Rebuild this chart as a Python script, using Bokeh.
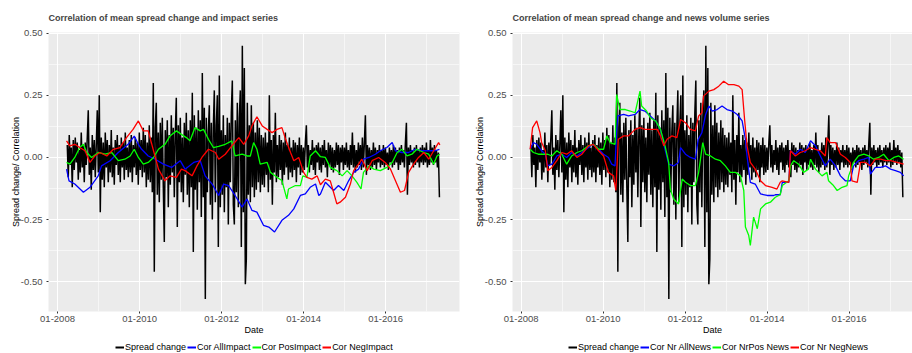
import numpy as np
import pandas as pd
from bokeh.plotting import figure
from bokeh.layouts import row, column
from bokeh.models import Range1d, FixedTicker, DatetimeTickFormatter, PrintfTickFormatter, Legend, LegendItem
from bokeh.embed import file_html
from bokeh.resources import INLINE

# ---------------- data ----------------
SPREAD_START = 2008.237
SPREAD_END = 2017.31
spread_change = [
    0.05, -0.08, 0.09, -0.03, 0.04, -0.12, 0.07, -0.05, 0.08, -0.02,
    0.06, -0.09, 0.03, -0.06, 0.10, -0.04, 0.05, -0.10, 0.06, -0.03,
    0.08, 0.19, -0.07, 0.04, -0.13, 0.09, -0.05, 0.07, -0.08, 0.05,
    0.19, -0.06, 0.25, -0.22, 0.08, -0.09, 0.06, -0.12, 0.10, -0.04,
    0.07, -0.10, 0.05, -0.06, 0.11, -0.08, 0.04, -0.11, 0.07, -0.03,
    0.09, -0.07, 0.05, -0.10, 0.08, -0.04, 0.06, -0.09, 0.10, -0.05,
    0.04, -0.08, 0.07, -0.06, 0.09, -0.10, 0.05, -0.04, 0.08, -0.07,
    0.06, -0.11, 0.10, -0.05, 0.07, -0.08, 0.12, -0.06, 0.09, -0.12,
    0.06, -0.09, 0.13, -0.10, 0.08, -0.14, 0.30, -0.46, 0.12, 0.22,
    -0.15, 0.10, -0.18, 0.14, -0.09, 0.16, -0.12, -0.34, 0.11, -0.08,
    0.15, -0.20, 0.09, -0.11, 0.17, -0.06, 0.12, -0.16, 0.10, 0.24,
    -0.28, 0.13, -0.10, 0.16, -0.14, 0.08, -0.18, 0.14, -0.07, 0.18,
    -0.15, 0.11, -0.20, 0.15, -0.12, 0.26, -0.38, 0.17, -0.13, 0.12,
    -0.21, 0.19, -0.10, 0.15, -0.24, 0.34, -0.16, 0.20, -0.57, 0.16,
    -0.14, 0.10, 0.21, -0.19, 0.14, -0.25, 0.12, 0.27, -0.18, 0.13,
    0.25, -0.36, 0.33, -0.20, 0.11, -0.15, 0.17, -0.22, 0.09, -0.12,
    0.16, -0.27, 0.14, -0.10, 0.18, 0.31, -0.19, -0.27, 0.15, -0.14,
    0.22, -0.20, 0.16, 0.27, -0.36, 0.45, -0.22, 0.36, -0.51, -0.41,
    0.22, -0.15, 0.13, -0.18, 0.21, -0.12, 0.14, -0.16, 0.10, -0.13,
    0.15, -0.10, 0.12, -0.14, 0.09, -0.11, 0.08, -0.12, 0.10, -0.07,
    0.06, -0.14, 0.25, -0.09, 0.07, -0.19, 0.09, -0.06, 0.18, -0.10,
    0.05, -0.08, 0.09, -0.05, 0.07, -0.11, 0.06, -0.07, 0.10, -0.04,
    0.05, -0.09, 0.08, -0.06, 0.04, -0.08, 0.07, -0.05, 0.06, -0.10,
    0.05, -0.04, 0.08, -0.07, 0.05, -0.06, 0.04, -0.05, 0.06, 0.13,
    -0.04, 0.05, -0.06, 0.03, -0.03, 0.07, -0.05, 0.04, -0.07, 0.05,
    -0.02, 0.06, -0.05, 0.04, -0.06, 0.05, -0.03, 0.07, -0.04, 0.03,
    -0.08, 0.06, -0.03, 0.05, -0.05, 0.04, -0.06, 0.03, -0.04, 0.06,
    -0.03, 0.05, -0.07, 0.04, -0.02, 0.05, -0.05, 0.04, -0.03, 0.06,
    -0.04, 0.03, -0.05, 0.05, -0.03, 0.10, -0.04, 0.05, -0.06, 0.03,
    -0.04, 0.06, -0.03, 0.05, -0.05, 0.08, -0.04, 0.06, 0.17, -0.07,
    0.05, -0.03, 0.04, -0.05, 0.03, -0.04, 0.06, -0.03, 0.04, -0.05,
    0.03, -0.02, 0.05, -0.04, 0.03, -0.03, 0.05, -0.04, 0.04, -0.03,
    0.02, -0.05, 0.04, -0.02, 0.03, -0.04, 0.05, -0.03, 0.04, -0.02,
    0.03, -0.05, 0.04, -0.03, 0.05, -0.02, 0.03, -0.04, 0.06, 0.14,
    -0.15, 0.04, -0.03, 0.05, -0.02, 0.03, -0.04, 0.04, -0.03, 0.05,
    -0.02, 0.03, -0.04, 0.04, -0.02, 0.05, -0.03, 0.04, -0.02, 0.06,
    -0.04, 0.03, -0.03, 0.07, -0.02, 0.04, -0.03, 0.05, -0.02, 0.03,
    -0.04, 0.02, -0.16,
]

# Left panel: impact correlations
cor_allimpact_t = [2008.22, 2008.28, 2008.42, 2008.63, 2008.79, 2008.99, 2009.07, 2009.28, 2009.48, 2009.72,
                   2009.87, 2009.97, 2010.05, 2010.21, 2010.38, 2010.58, 2010.78, 2010.99, 2011.11, 2011.32,
                   2011.48, 2011.60, 2011.77, 2011.93, 2012.05, 2012.17, 2012.33, 2012.50, 2012.62, 2012.74,
                   2012.86, 2013.02, 2013.15, 2013.29, 2013.47, 2013.63, 2013.76, 2013.92, 2014.04, 2014.16,
                   2014.29, 2014.37, 2014.41, 2014.53, 2014.61, 2014.73, 2014.85, 2014.98, 2015.10, 2015.22,
                   2015.34, 2015.46, 2015.59, 2015.75, 2015.87, 2016.03, 2016.16, 2016.24, 2016.40, 2016.56,
                   2016.72, 2016.89, 2017.05, 2017.21, 2017.31]
cor_allimpact = [-0.047, -0.094, -0.107, -0.14, -0.12, -0.074, -0.034, -0.013, 0.02, 0.053,
                 0.086, 0.053, 0.033, 0.006, -0.007, -0.027, -0.04, -0.013, -0.047, -0.02,
                 -0.013, -0.074, -0.107, -0.153, -0.107, -0.113, -0.153, -0.2, -0.167, -0.213,
                 -0.22, -0.273, -0.28, -0.30, -0.253, -0.233, -0.207, -0.153, -0.147, -0.12,
                 -0.107, -0.153, -0.147, -0.1, -0.113, -0.133, -0.113, -0.133, -0.093, -0.06,
                 -0.047, -0.007, 0.0, 0.013, 0.027, 0.04, 0.06, 0.027, 0.02, 0.02,
                 0.033, 0.027, 0.027, 0.027, 0.033]

cor_posimpact_t = [2008.22, 2008.30, 2008.42, 2008.54, 2008.63, 2008.71, 2008.83, 2008.99, 2009.16, 2009.32,
                   2009.48, 2009.64, 2009.77, 2009.87, 2009.97, 2010.09, 2010.21, 2010.34, 2010.46, 2010.62,
                   2010.74, 2010.90, 2011.02, 2011.14, 2011.23, 2011.35, 2011.48, 2011.56, 2011.68, 2011.80,
                   2011.93, 2012.09, 2012.25, 2012.33, 2012.50, 2012.62, 2012.70, 2012.78, 2012.86, 2012.94,
                   2013.11, 2013.19, 2013.35, 2013.47, 2013.59, 2013.63, 2013.80, 2013.92, 2013.98, 2014.08,
                   2014.16, 2014.29, 2014.41, 2014.53, 2014.65, 2014.81, 2014.94, 2015.06, 2015.18, 2015.30,
                   2015.40, 2015.46, 2015.59, 2015.71, 2015.87, 2016.03, 2016.16, 2016.28, 2016.40, 2016.52,
                   2016.64, 2016.76, 2016.93, 2017.05, 2017.17, 2017.25, 2017.32]
cor_posimpact = [-0.02, -0.027, 0.0, 0.04, 0.053, 0.02, 0.0, 0.02, 0.013, 0.02,
                 -0.013, -0.007, 0.006, 0.033, 0.0, -0.027, -0.02, 0.0, 0.033, 0.053,
                 0.086, 0.107, 0.093, 0.08, 0.067, 0.12, 0.107, 0.113, 0.073, 0.04,
                 0.045, 0.053, 0.067, 0.006, 0.013, 0.006, 0.006, 0.06, 0.033, -0.027,
                 -0.02, -0.06, -0.08, -0.093, -0.167, -0.127, -0.113, -0.113, -0.074, -0.08,
                 0.006, 0.027, 0.003, 0.0, -0.04, -0.053, -0.074, -0.053, -0.074, -0.1,
                 -0.127, -0.06, -0.034, -0.047, -0.053, -0.04, -0.02, 0.02, 0.033, 0.006,
                 0.013, 0.033, 0.02, 0.013, -0.027, 0.006, 0.013]

cor_negimpact_t = [2008.22, 2008.30, 2008.42, 2008.54, 2008.67, 2008.79, 2008.91, 2009.03, 2009.20, 2009.36,
                   2009.52, 2009.68, 2009.84, 2009.97, 2010.09, 2010.21, 2010.34, 2010.46, 2010.62, 2010.74,
                   2010.90, 2011.02, 2011.11, 2011.28, 2011.40, 2011.52, 2011.68, 2011.85, 2011.93, 2012.09,
                   2012.25, 2012.42, 2012.54, 2012.66, 2012.74, 2012.86, 2012.99, 2013.11, 2013.23, 2013.35,
                   2013.47, 2013.56, 2013.68, 2013.76, 2013.88, 2014.00, 2014.08, 2014.20, 2014.33, 2014.41,
                   2014.53, 2014.65, 2014.73, 2014.81, 2014.89, 2015.02, 2015.14, 2015.22, 2015.34, 2015.42,
                   2015.55, 2015.67, 2015.83, 2015.99, 2016.12, 2016.24, 2016.36, 2016.46, 2016.56, 2016.68,
                   2016.80, 2016.93, 2017.05, 2017.17, 2017.29, 2017.32]
cor_negimpact = [0.067, 0.047, 0.053, 0.04, 0.027, -0.02, 0.006, 0.02, 0.006, 0.033,
                 0.04, 0.08, 0.113, 0.147, 0.107, 0.107, 0.027, -0.047, -0.094, -0.074,
                 -0.08, -0.047, -0.053, -0.074, -0.034, 0.0, 0.033, 0.02, -0.007, 0.013,
                 0.047, 0.08, 0.053, 0.087, 0.127, 0.164, 0.127, 0.113, 0.1, 0.113,
                 0.12, 0.073, 0.02, -0.013, 0.0, -0.06, -0.08, -0.087, -0.074, -0.11,
                 -0.087, -0.094, -0.14, -0.187, -0.18, -0.16, -0.107, -0.053, -0.027, -0.007,
                 -0.053, -0.013, 0.0, -0.02, -0.047, -0.094, -0.14, -0.133, -0.06, -0.027,
                 0.0, 0.02, -0.007, 0.027, 0.06, 0.05]

# Right panel: news volume correlations
cor_nr_allnews_t = [2008.22, 2008.30, 2008.38, 2008.50, 2008.59, 2008.65, 2008.75, 2008.87, 2008.99, 2009.11,
                    2009.23, 2009.36, 2009.48, 2009.64, 2009.76, 2009.89, 2010.01, 2010.13, 2010.21, 2010.29,
                    2010.33, 2010.36, 2010.50, 2010.62, 2010.78, 2010.90, 2011.02, 2011.15, 2011.28, 2011.40,
                    2011.48, 2011.60, 2011.72, 2011.84, 2011.89, 2012.01, 2012.13, 2012.25, 2012.32, 2012.41,
                    2012.50, 2012.58, 2012.66, 2012.78, 2012.90, 2013.02, 2013.15, 2013.27, 2013.39, 2013.47,
                    2013.51, 2013.59, 2013.71, 2013.84, 2014.00, 2014.16, 2014.20, 2014.32, 2014.37, 2014.53,
                    2014.57, 2014.69, 2014.81, 2014.93, 2015.06, 2015.18, 2015.30, 2015.42, 2015.54, 2015.67,
                    2015.79, 2015.91, 2016.03, 2016.11, 2016.23, 2016.36, 2016.48, 2016.52, 2016.64, 2016.77,
                    2016.89, 2017.01, 2017.13, 2017.25, 2017.33]
cor_nr_allnews = [0.033, 0.06, 0.053, 0.027, 0.013, -0.034, -0.027, 0.006, 0.013, 0.0,
                  0.02, 0.006, 0.02, 0.04, 0.053, 0.033, 0.013, 0.0, -0.027, -0.034,
                  0.113, 0.167, 0.173, 0.167, 0.173, 0.193, 0.187, 0.167, 0.147, 0.113,
                  0.053, -0.027, -0.034, -0.02, 0.04, 0.013, 0.0, -0.007, 0.073, 0.1,
                  0.173, 0.207, 0.187, 0.193, 0.207, 0.193, 0.187, 0.173, 0.147, 0.073,
                  0.006, -0.1, -0.107, -0.147, -0.153, -0.153, -0.15, -0.15, -0.10, -0.10,
                  0.027, 0.013, 0.033, 0.02, 0.067, 0.047, 0.006, -0.034, -0.007, -0.034,
                  -0.074, -0.094, -0.094, -0.034, -0.013, -0.007, 0.0, -0.067, -0.04, -0.04,
                  -0.034, -0.047, -0.053, -0.06, -0.074]

cor_nrpos_news_t = [2008.22, 2008.30, 2008.42, 2008.54, 2008.65, 2008.75, 2008.87, 2008.99, 2009.11, 2009.23,
                    2009.36, 2009.48, 2009.64, 2009.76, 2009.89, 2010.01, 2010.09, 2010.17, 2010.29, 2010.33,
                    2010.41, 2010.54, 2010.66, 2010.78, 2010.90, 2010.94, 2011.06, 2011.15, 2011.28, 2011.40,
                    2011.52, 2011.60, 2011.64, 2011.72, 2011.84, 2011.93, 2012.01, 2012.13, 2012.25, 2012.33,
                    2012.43, 2012.50, 2012.62, 2012.74, 2012.86, 2012.98, 2013.10, 2013.23, 2013.35, 2013.43,
                    2013.47, 2013.55, 2013.59, 2013.67, 2013.76, 2013.84, 2013.96, 2014.08, 2014.20, 2014.32,
                    2014.37, 2014.53, 2014.57, 2014.65, 2014.77, 2014.89, 2015.01, 2015.06, 2015.18, 2015.34,
                    2015.46, 2015.50, 2015.62, 2015.71, 2015.83, 2015.95, 2015.99, 2016.11, 2016.23, 2016.36,
                    2016.48, 2016.60, 2016.72, 2016.84, 2016.97, 2017.09, 2017.21, 2017.33]
cor_nrpos_news = [0.033, 0.02, 0.013, 0.013, 0.013, 0.006, 0.027, 0.013, -0.027, 0.006,
                  0.02, 0.027, 0.047, 0.053, 0.033, 0.033, 0.087, 0.06, 0.053, 0.253,
                  0.193, 0.193, 0.187, 0.18, 0.267, 0.207, 0.187, 0.16, 0.147, 0.113,
                  0.04, -0.02, -0.127, -0.167, -0.187, -0.087, -0.1, -0.113, -0.113, -0.06,
                  0.06, 0.013, 0.006, -0.007, -0.013, -0.034, -0.06, -0.06, -0.074, -0.133,
                  -0.28, -0.313, -0.354, -0.24, -0.287, -0.207, -0.187, -0.18, -0.16, -0.15,
                  -0.113, -0.094, -0.034, -0.013, -0.027, -0.06, -0.047, -0.007, -0.047, -0.074,
                  -0.06, -0.094, -0.113, -0.133, -0.12, -0.113, -0.074, -0.02, 0.006, 0.013,
                  0.006, -0.007, 0.0, 0.013, -0.013, 0.0, 0.006, -0.007]

cor_nr_negnews_t = [2008.22, 2008.28, 2008.38, 2008.46, 2008.50, 2008.59, 2008.65, 2008.75, 2008.87, 2008.99,
                    2009.11, 2009.23, 2009.36, 2009.48, 2009.64, 2009.76, 2009.89, 2010.01, 2010.13, 2010.25,
                    2010.31, 2010.37, 2010.50, 2010.62, 2010.78, 2010.90, 2011.02, 2011.20, 2011.32, 2011.40,
                    2011.48, 2011.56, 2011.68, 2011.80, 2011.89, 2012.01, 2012.13, 2012.25, 2012.33, 2012.41,
                    2012.45, 2012.58, 2012.70, 2012.82, 2012.94, 2013.06, 2013.19, 2013.31, 2013.39, 2013.45,
                    2013.51, 2013.59, 2013.71, 2013.84, 2013.96, 2014.12, 2014.24, 2014.32, 2014.37, 2014.53,
                    2014.57, 2014.69, 2014.81, 2014.93, 2015.06, 2015.18, 2015.30, 2015.42, 2015.46, 2015.54,
                    2015.67, 2015.79, 2015.91, 2016.03, 2016.07, 2016.20, 2016.28, 2016.40, 2016.52, 2016.64,
                    2016.77, 2016.89, 2017.01, 2017.17, 2017.33]
cor_nr_negnews = [0.033, 0.12, 0.147, 0.1, 0.06, 0.027, -0.053, -0.04, -0.013, 0.02,
                  0.013, 0.027, 0.0, 0.013, 0.047, 0.053, 0.027, 0.006, -0.06, -0.074,
                  -0.133, 0.073, 0.087, 0.087, 0.113, 0.12, 0.113, 0.113, 0.113, 0.087,
                  0.047, 0.073, 0.087, 0.08, 0.153, 0.14, 0.113, 0.107, 0.167, 0.18,
                  0.247, 0.267, 0.273, 0.287, 0.307, 0.293, 0.293, 0.287, 0.273, 0.153,
                  0.047, -0.02, -0.047, -0.094, -0.113, -0.12, -0.127, -0.1, -0.094, -0.1,
                  0.027, 0.006, 0.02, 0.027, 0.04, 0.033, 0.027, 0.006, 0.08, 0.06,
                  0.06, 0.013, 0.0, -0.02, -0.094, -0.1, -0.02, -0.02, -0.034, -0.007,
                  -0.007, -0.013, -0.013, -0.02, -0.027]

y_ticks = [-0.5, -0.25, 0.0, 0.25, 0.5]
x_tick_years = [2008, 2010, 2012, 2014, 2016]

# ---------------- helpers ----------------
def yr(y):
    year = int(np.floor(y))
    frac = y - year
    start = pd.Timestamp(year=year, month=1, day=1)
    end = pd.Timestamp(year=year + 1, month=1, day=1)
    return (start + (end - start) * frac).value / 1e6


def yrs(lst):
    return [yr(v) for v in lst]


spread_x = list(np.linspace(yr(SPREAD_START), yr(SPREAD_END), len(spread_change)))

FONT = "Liberation Sans"
BG = "#EBEBEB"
LEG_H = 14


def make_panel(title, series, width, left_border, right_border, x0, x1):
    p = figure(width=width, height=353 - LEG_H, x_axis_type="datetime",
               x_range=Range1d(yr(x0), yr(x1)), y_range=Range1d(-0.62, 0.503),
               output_backend="svg", toolbar_location=None,
               min_border_left=left_border, min_border_right=right_border,
               min_border_top=31, min_border_bottom=42 - LEG_H)
    p.background_fill_color = BG
    p.border_fill_color = "white"
    p.outline_line_color = None

    p.title.text = title
    p.title.text_font = FONT
    p.title.text_font_size = "9px"
    p.title.text_font_style = "bold"
    p.title.align = "left"
    p.title.standoff = 20

    p.xaxis.ticker = FixedTicker(ticks=[yr(v) for v in x_tick_years],
                                 minor_ticks=[yr(v + 1) for v in x_tick_years])
    p.xaxis.formatter = DatetimeTickFormatter(years="%m-%Y", months="%m-%Y", days="%m-%Y")
    p.yaxis.ticker = FixedTicker(ticks=y_ticks, minor_ticks=[-0.375, -0.125, 0.125, 0.375])
    p.yaxis.formatter = PrintfTickFormatter(format="%.2f")
    for ax in (p.xaxis, p.yaxis):
        ax.axis_line_color = None
        ax.major_tick_line_color = "#333333"
        ax.major_tick_out = 2
        ax.major_tick_in = 0
        ax.minor_tick_line_color = None
        ax.major_label_text_font = FONT
        ax.major_label_text_font_size = "9.5px"
        ax.major_label_text_color = "#4D4D4D"
        ax.axis_label_text_font = FONT
        ax.axis_label_text_font_size = "9px"
        ax.axis_label_text_font_style = "normal"
        ax.axis_label_text_color = "black"
    p.xaxis.axis_label = "Date"
    p.xaxis.major_label_standoff = 0
    p.xaxis.axis_label_standoff = 0
    p.yaxis.axis_label = "Spread change/ Correlation"
    p.yaxis.major_label_standoff = 2
    p.yaxis.axis_label_standoff = -3

    for g in (p.xgrid, p.ygrid):
        g.grid_line_color = "white"
        g.grid_line_width = 1.1
        g.minor_grid_line_color = "white"
        g.minor_grid_line_width = 0.55

    p.line(spread_x, spread_change, line_color="black", line_width=1.5)
    for t, v, c in series:
        p.line(yrs(t), v, line_color=c, line_width=1.3)
    return p


def make_legend(width, labels, colors, x_off):
    q = figure(width=width, height=LEG_H, output_backend="svg", toolbar_location=None,
               x_range=Range1d(0, 1), y_range=Range1d(0, 1), title=None,
               x_axis_location=None, y_axis_location=None,
               min_border_left=0, min_border_right=0, min_border_top=0, min_border_bottom=0)
    q.grid.visible = False
    q.outline_line_color = None
    q.background_fill_color = "white"
    q.border_fill_color = "white"
    items = []
    for lab, c in zip(labels, colors):
        # legend-key carrier renderer: a single undefined point draws nothing in the frame
        r = q.line([float("nan")], [float("nan")], line_color=c, line_width=2)
        items.append(LegendItem(label=lab, renderers=[r]))
    leg = Legend(items=items, orientation="horizontal", location=(x_off, 1), nrows=1)
    leg.label_text_font = FONT
    leg.label_text_font_size = "9px"
    leg.label_text_color = "black"
    leg.glyph_width = 9
    leg.glyph_height = 10
    leg.label_height = 10
    leg.label_standoff = 1
    leg.spacing = 1
    leg.padding = 0
    leg.margin = 0
    leg.border_line_color = None
    leg.background_fill_alpha = 0
    q.add_layout(leg, "center")
    return q


COLORS = ["black", "blue", "#00FF00", "red"]

left = make_panel("Correlation of mean spread change and impact series",
                  [(cor_allimpact_t, cor_allimpact, "blue"),
                   (cor_posimpact_t, cor_posimpact, "#00FF00"),
                   (cor_negimpact_t, cor_negimpact, "red")],
                  460, 48, 1, 2007.78, 2017.80)
right = make_panel("Correlation of mean spread change and news volume series",
                   [(cor_nr_allnews_t, cor_nr_allnews, "blue"),
                    (cor_nrpos_news_t, cor_nrpos_news, "#00FF00"),
                    (cor_nr_negnews_t, cor_nr_negnews, "red")],
                   452, 52, 0, 2007.79, 2017.546)
leg_left = make_legend(460, ["Spread change", "Cor AllImpact", "Cor PosImpact", "Cor NegImpact"], COLORS, 115)
leg_right = make_legend(452, ["Spread change", "Cor Nr AllNews", "Cor NrPos News", "Cor Nr NegNews"], COLORS, 108)

layout = column(row(left, right), row(leg_left, leg_right))
open("out.html", "w").write(file_html(layout, INLINE))
